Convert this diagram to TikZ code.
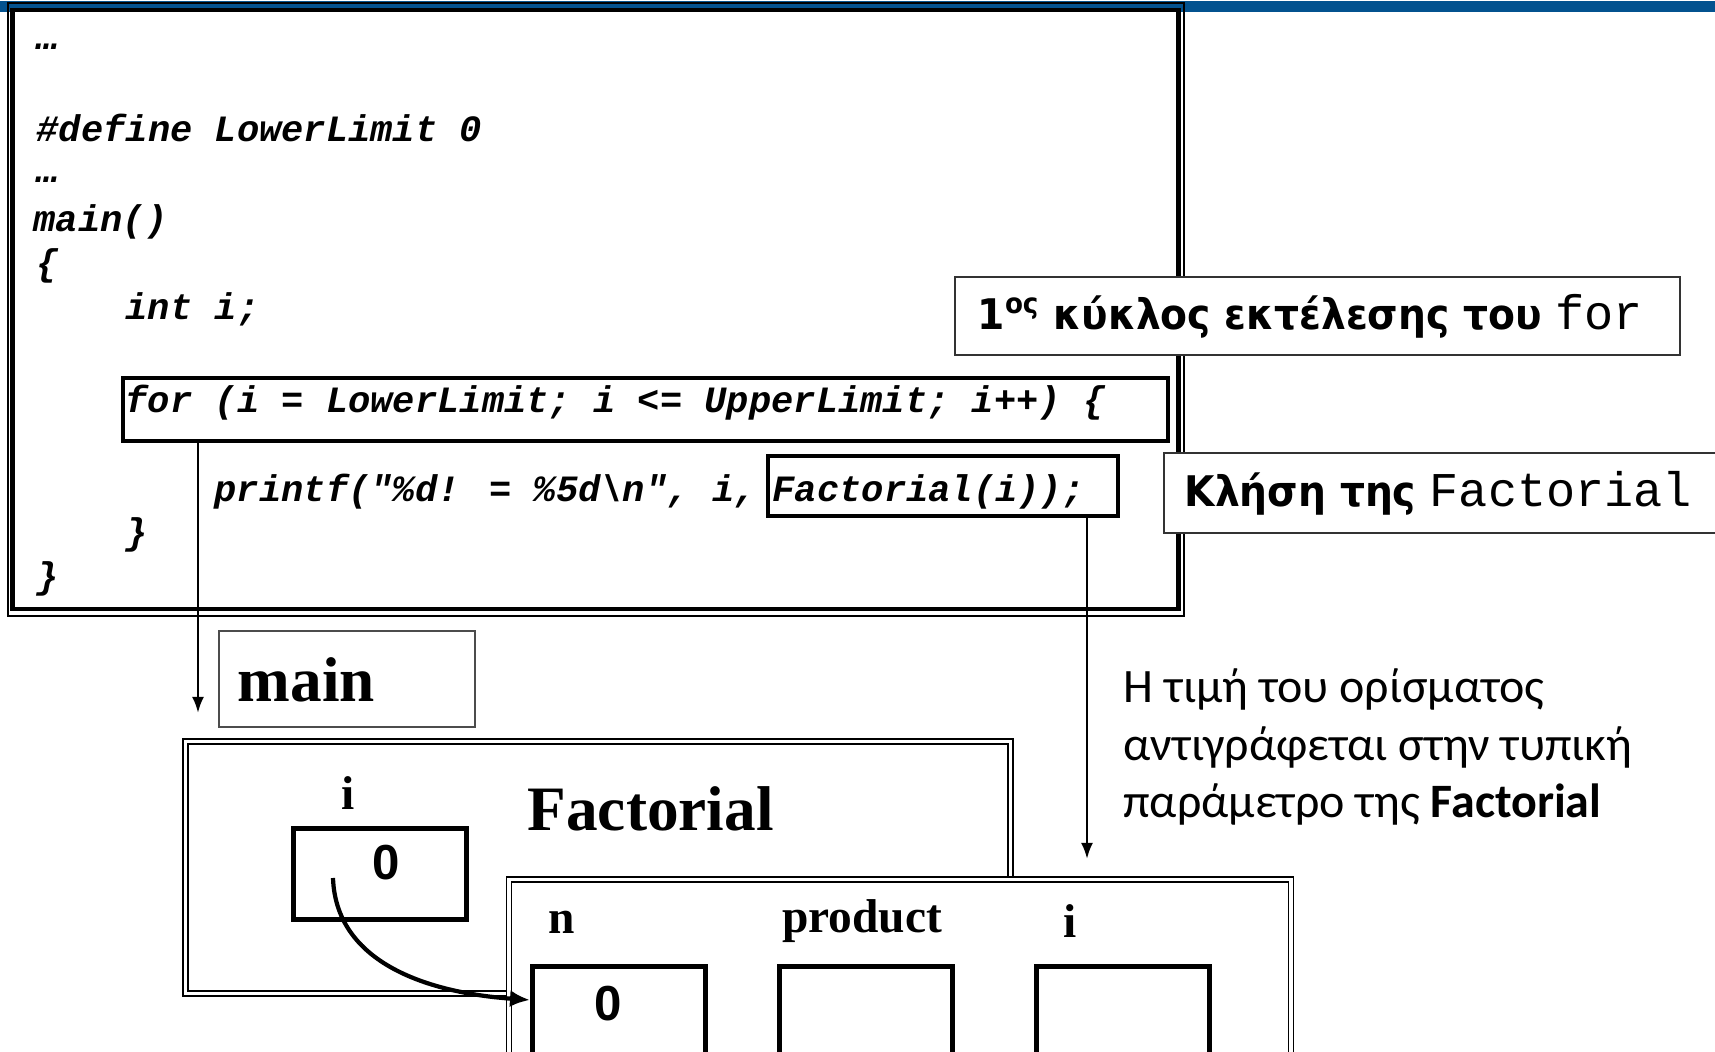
\documentclass[tikz,border=0pt]{standalone}
\usepackage{fontspec}
\usepackage{tikz}
\usetikzlibrary{arrows.meta}

\newfontfamily\codefont{Liberation Mono}[Ligatures=TeXOff]
\newfontfamily\timesfont{Liberation Serif}
\newfontfamily\valfont{Liberation Sans}
\newfontfamily\notefont{Carlito}
\newfontfamily\handfont{DejaVu Sans}[FakeStretch=0.93]
\definecolor{barblue}{HTML}{03528F}

\begin{document}
\begin{tikzpicture}[
        codeline/.style={anchor=base west, inner sep=0pt, font=\codefont\bfseries\itshape\fontsize{10.56}{12}\selectfont},
        codebox/.style={draw, line width=1pt, inner sep=0pt, anchor=north west},
        notebox/.style={draw=black!80, line width=0.6pt, fill=white, inner sep=0pt, anchor=north west},
        notetext/.style={anchor=west, inner sep=0pt, font=\handfont\bfseries\fontsize{12}{14}\selectfont},
        cellbox/.style={draw, line width=1.3pt, inner sep=0pt, anchor=north west, minimum width=1.73cm},
        varname/.style={inner sep=0pt, font=\timesfont\bfseries\fontsize{13.5}{16}\selectfont},
        varval/.style={inner sep=0pt, font=\valfont\bfseries\fontsize{14}{16}\selectfont},
        frametitle/.style={anchor=west, inner sep=0pt, font=\timesfont\bfseries\fontsize{18}{21}\selectfont},
        stackframe/.style={line width=0.45pt, double, double distance=0.035cm},
        flow/.style={line width=0.75pt, -{Latex[length=0.16cm, width=0.12cm]}},
        copyflow/.style={line width=1.2pt, -{Latex[length=0.2cm, width=0.17cm]}}
    ]
        \useasboundingbox (0,0) rectangle (17.15,-10.52);
        \fill[barblue] (0,-0.01) rectangle (17.15,-0.12);
        \draw[line width=0.4pt] (0.08,-0.03) rectangle (11.84,-6.16);
        \draw[line width=1.4pt] (0.125,-0.10) rectangle (11.785,-6.09);

        \node[codeline] (dotsa) at (0.36,-0.50) {…};
        \node[codeline] (define) at (0.36,-1.42) {\#define LowerLimit 0};
        \node[codeline] (dotsb) at (0.36,-1.83) {…};
        \node[codeline] (mainhead) at (0.33,-2.32) {main()};
        \node[codeline] (openmain) at (0.36,-2.76) {\{};
        \node[codeline] (decl) at (1.25,-3.20) {int i;};
        \node[codebox, minimum width=10.45cm, minimum height=0.63cm] (forbox) at (1.21,-3.76) {};
        \node[codeline] (forline) at (1.25,-4.13) {for (i = LowerLimit; i <= UpperLimit; i++) \{};
        \node[codeline] (printline) at (2.14,-5.02) {printf("\%d! = \%5d\textbackslash n", i,};
        \node[codebox, minimum width=3.50cm, minimum height=0.60cm] (factbox) at (7.66,-4.54) {};
        \node[codeline] (callline) at (7.72,-5.02) {Factorial(i));};
        \node[codeline] (closefor) at (1.25,-5.45) {\}};
        \node[codeline] (closemain) at (0.36,-5.89) {\}};

        \node[notebox, minimum width=7.25cm, minimum height=0.78cm] (loopnote) at (9.54,-2.76) {};
        \node[notetext] (loopnotetext) at ([xshift=0.23cm]loopnote.west) {1\textsuperscript{ος} κύκλος εκτέλεσης του {\codefont\mdseries\fontsize{13.8}{16}\selectfont for}};
        \node[notebox, minimum width=5.70cm, minimum height=0.80cm] (callnote) at (11.63,-4.52) {};
        \node[notetext] (callnotetext) at ([xshift=0.21cm]callnote.west) {Κλήση της {\codefont\mdseries\fontsize{13.8}{16}\selectfont Factorial}};

        \coordinate (mainentry) at (1.98,-7.13);
        \draw[flow] (forbox.south -| mainentry) -- (mainentry);
        \coordinate (callentry) at (10.87,-8.59);
        \draw[flow] (factbox.south -| callentry) -- (callentry);

        \node[notebox, draw=black!70, minimum width=2.56cm, minimum height=0.96cm] (mainbox) at (2.18,-6.30) {};
        \node[frametitle] (maintitle) at (2.37,-6.80) {main};

        \draw[stackframe] (1.855,-7.415) rectangle (10.105,-9.935);
        \node[varname] (iname) at (3.48,-7.93) {i};
        \node[cellbox, minimum height=0.91cm] (ibox) at (2.91,-8.26) {};
        \node[varval] (ival) at (3.86,-8.63) {0};
        \node[frametitle] (factitle) at (5.27,-8.09) {Factorial};

        \draw[stackframe, fill=white] (5.09,-8.795) rectangle (12.91,-10.80);
        \node[varname] (nname) at (5.62,-9.22) {n};
        \node[varname] (prodname) at (8.62,-9.21) {product};
        \node[varname] (kname) at (10.70,-9.21) {i};
        \node[cellbox, minimum height=1.2cm] (nbox) at (5.30,-9.64) {};
        \node[cellbox, minimum height=1.2cm] (prodbox) at (7.77,-9.64) {};
        \node[cellbox, minimum height=1.2cm] (kbox) at (10.34,-9.64) {};
        \node[varval] (nval) at (6.08,-10.04) {0};

        \coordinate (icopy) at (3.33,-8.78);
        \draw[copyflow] (icopy) to[out=-88,in=176] ([yshift=-0.36cm]nbox.north west);

        \node[anchor=north west, inner sep=0pt, align=left, font=\notefont\fontsize{13.65}{16.4}\selectfont] (copynote) at (11.23,-6.68) {Η τιμή του ορίσματος\\αντιγράφεται στην τυπική\\παράμετρο της \textbf{Factorial}};
    \end{tikzpicture}
\end{document}
